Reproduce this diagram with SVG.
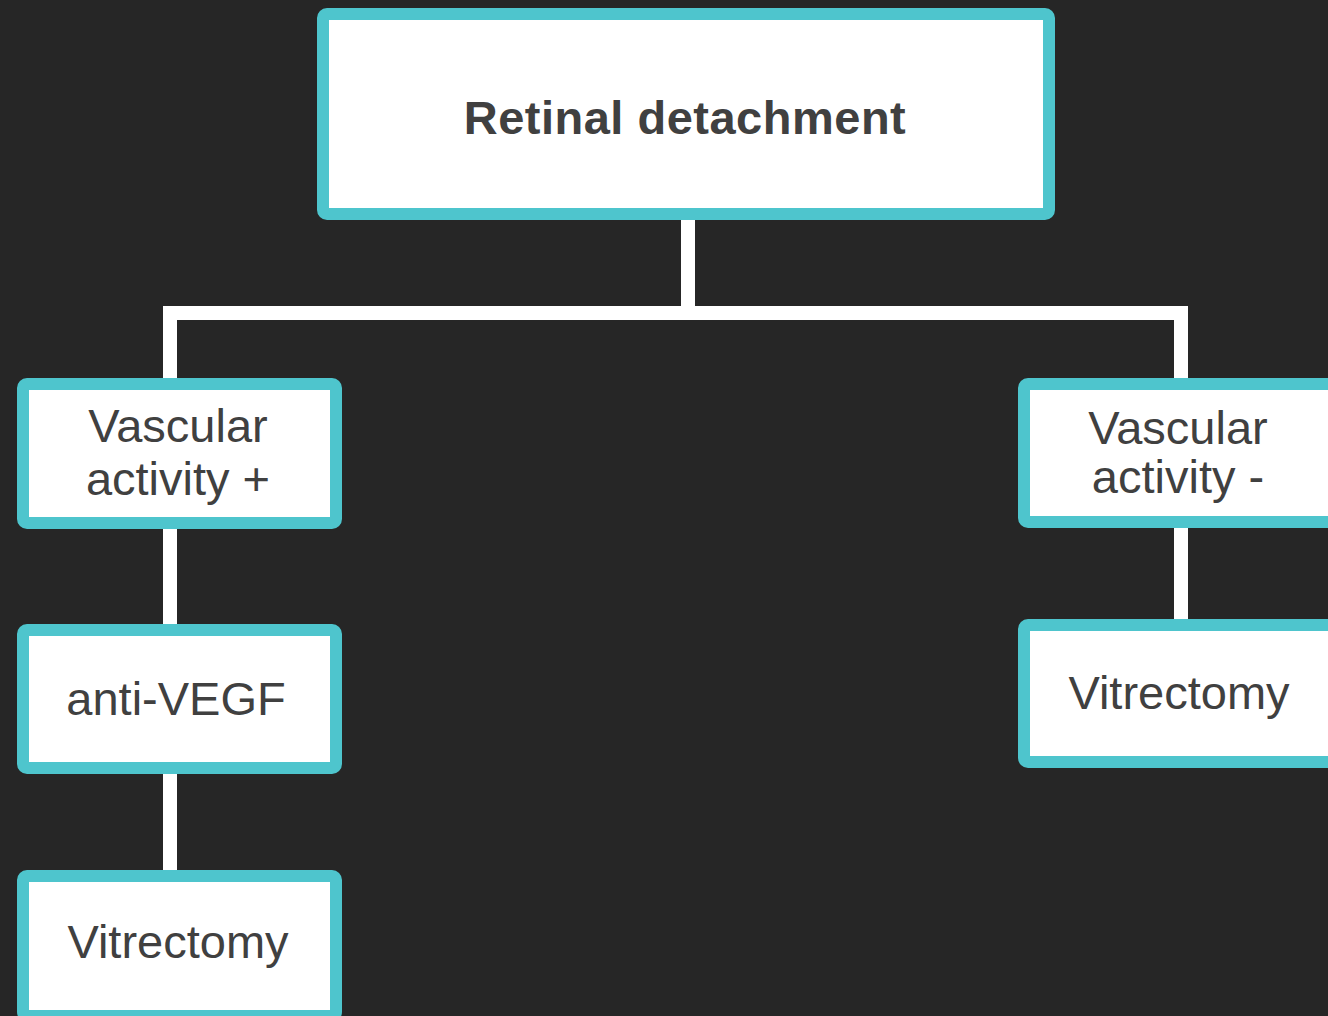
<svg xmlns="http://www.w3.org/2000/svg" width="1328" height="1016" viewBox="0 0 1328 1016">
  <style>
    .box { fill: #ffffff; stroke: #4ec5cd; stroke-width: 12; }
    .link { fill: none; stroke: #ffffff; stroke-width: 14; }
    .label { font-family: "Liberation Sans", Arial, sans-serif; font-size: 47px; fill: #404040; text-anchor: middle; }
    .title { font-weight: bold; font-size: 47px; letter-spacing: 0.5px; }
  </style>
  <rect width="1328" height="1016" fill="#262626"/>

  <g id="connectors">
    <path class="link" d="M688 220 V313 M170 378 V313 H1181 V378"/>
    <path class="link" d="M170 529 V624"/>
    <path class="link" d="M170 774 V870"/>
    <path class="link" d="M1181 528 V619"/>
  </g>

  <g id="retinal-detachment">
    <rect class="box" x="323" y="14" width="726" height="200" rx="4"/>
    <text class="label title" x="685" y="134">Retinal detachment</text>
  </g>

  <g id="vascular-activity-plus">
    <rect class="box" x="23" y="384" width="313" height="139" rx="4"/>
    <text class="label" x="178" y="442">Vascular</text>
    <text class="label" x="178" y="495">activity +</text>
  </g>

  <g id="anti-vegf">
    <rect class="box" x="23" y="630" width="313" height="138" rx="4"/>
    <text class="label" x="176" y="715">anti-VEGF</text>
  </g>

  <g id="vitrectomy-left">
    <rect class="box" x="23" y="876" width="313" height="140" rx="4"/>
    <text class="label" x="178" y="958">Vitrectomy</text>
  </g>

  <g id="vascular-activity-minus">
    <rect class="box" x="1024" y="384" width="313" height="138" rx="4"/>
    <text class="label" x="1178" y="444">Vascular</text>
    <text class="label" x="1178" y="493">activity -</text>
  </g>

  <g id="vitrectomy-right">
    <rect class="box" x="1024" y="625" width="313" height="137" rx="4"/>
    <text class="label" x="1179" y="709">Vitrectomy</text>
  </g>
</svg>
